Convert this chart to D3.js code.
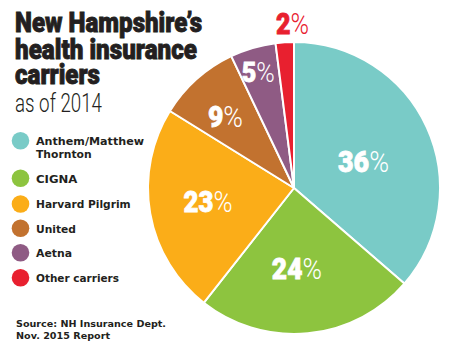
<!DOCTYPE html>
<html><head><meta charset="utf-8">
<script src="https://cdn.jsdelivr.net/npm/d3@7"></script>
<style>
html,body{margin:0;padding:0;background:#fff;}
svg{display:block;}
</style></head>
<body>
<script>
const categories = ["Anthem/Matthew Thornton", "CIGNA", "Harvard Pilgrim", "United", "Aetna", "Other carriers"];
const values = [36, 24, 23, 9, 5, 2];
const valueLabels = ["36", "24", "23", "9", "5", "2"];
const colors = ["#79cbc7", "#8dc43f", "#fbad18", "#c2722f", "#8f5b84", "#e8202f"];
const titleLines = ["New Hampshire\u2019s", "health insurance", "carriers"];
const subtitle = "as of 2014";
const sourceLines = ["Source: NH Insurance Dept.", "Nov. 2015 Report"];

const W = 450, H = 355;
const svg = d3.select("body").append("svg").attr("width", W).attr("height", H);

// ---- layout / style config ----
const cx = 294, cy = 188, R = 146;
const labelR = [74.6, 80, 87, 99.4, 121.5, 164];
const labelShift = [3.3, 3.4, 1.4, -1.8, -0.8, 3.1];   // degrees
const labelSize = [30, 30, 30, 30, 28, 29];
const labelWidth = [51, 50, 49, 35, 33, 33];
const labelColor = ["#fff", "#fff", "#fff", "#fff", "#fff", "#e8202f"];
const ink = "#231f20";
const headFont = "Roboto, 'Liberation Sans', Arial, sans-serif";
const bodyFont = "'DejaVu Sans', Verdana, sans-serif";

const pie = d3.pie().value(d => d).sort(null);
const arcs = pie(values);
const arc = d3.arc().innerRadius(0).outerRadius(R);

const g = svg.append("g").attr("transform", `translate(${cx},${cy})`);
g.selectAll("path").data(arcs).join("path")
  .attr("d", arc)
  .attr("fill", (d, i) => colors[i])
  .attr("stroke", "#fff").attr("stroke-width", 2).attr("stroke-linejoin", "round");

g.selectAll("text.lbl").data(arcs).join("text")
  .attr("class", "lbl")
  .each(function(d, i) {
    const a = (d.startAngle + d.endAngle) / 2 + labelShift[i] * Math.PI / 180;
    const r = labelR[i];
    const t = d3.select(this)
      .attr("x", Math.sin(a) * r - labelWidth[i] / 2)
      .attr("y", -Math.cos(a) * r + labelSize[i] * 0.36)
      .attr("font-family", headFont)
      .attr("font-size", labelSize[i])
      .attr("fill", labelColor[i])
      .attr("textLength", labelWidth[i])
      .attr("lengthAdjust", "spacingAndGlyphs");
    t.append("tspan").attr("font-weight", "900").attr("stroke", labelColor[i]).attr("stroke-width", 0.8).text(valueLabels[i]);
    t.append("tspan").attr("font-weight", "300").text("%");
  });

// ---- title ----
const titleY = [32, 58.5, 84];
const titleW = [187, 182, 85];
titleLines.forEach((s, i) => {
  svg.append("text")
    .attr("x", 15).attr("y", titleY[i])
    .attr("font-family", headFont)
    .attr("font-weight", "900")
    .attr("font-size", 28)
    .attr("fill", ink)
    .attr("stroke", ink).attr("stroke-width", 0.9)
    .attr("textLength", titleW[i]).attr("lengthAdjust", "spacingAndGlyphs")
    .text(s);
});
svg.append("text")
  .attr("x", 15).attr("y", 111.5)
  .attr("font-family", headFont)
  .attr("font-weight", "300")
  .attr("font-size", 26)
  .attr("fill", ink)
  .attr("textLength", 87).attr("lengthAdjust", "spacingAndGlyphs")
  .text(subtitle);

// ---- legend ----
const legendY = [140.7, 178.3, 204, 228.3, 252.7, 277.7];
const legendLines = [["Anthem/Matthew", "Thornton"], ["CIGNA"], ["Harvard Pilgrim"], ["United"], ["Aetna"], ["Other carriers"]];
const legendW = [[108, 55.7], [41.3], [94.7], [40], [36], [83]];
const leg = svg.append("g");
categories.forEach((c, i) => {
  leg.append("circle").attr("cx", 20.5).attr("cy", legendY[i]).attr("r", 8.8).attr("fill", colors[i]);
  legendLines[i].forEach((s, j) => {
    leg.append("text")
      .attr("x", 36).attr("y", legendY[i] + 4.3 + j * 12.7)
      .attr("font-family", bodyFont)
      .attr("font-weight", "bold")
      .attr("font-size", 11.2)
      .attr("fill", ink)
      .attr("textLength", legendW[i][j]).attr("lengthAdjust", "spacingAndGlyphs")
      .text(s);
  });
});

// ---- source ----
const sourceW = [150, 94];
sourceLines.forEach((s, i) => {
  svg.append("text")
    .attr("x", 16).attr("y", 326.7 + i * 12.6)
    .attr("font-family", bodyFont)
    .attr("font-weight", "bold")
    .attr("font-size", 9.2)
    .attr("fill", ink)
    .attr("textLength", sourceW[i]).attr("lengthAdjust", "spacingAndGlyphs")
    .text(s);
});
</script>
</body></html>
